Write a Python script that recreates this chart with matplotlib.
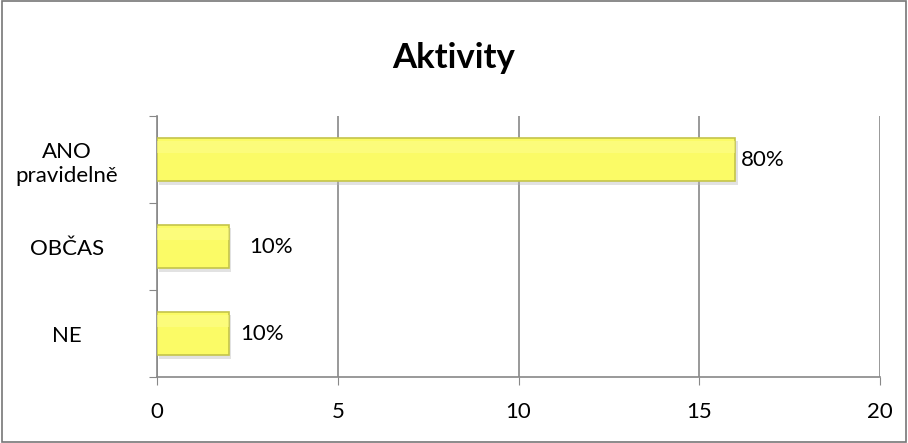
import matplotlib.pyplot as plt
import numpy as np
from matplotlib.patches import Rectangle

categories = ["NE", "OBČAS", "ANO\npravidelně"]
counts = [2, 2, 16]
pct_labels = ["10%", "10%", "80%"]
x_ticks = [0, 5, 10, 15, 20]

plt.rcParams["font.family"] = ["Lato", "DejaVu Sans"]

fig = plt.figure(figsize=(9.08, 4.43), dpi=100)
ax = fig.add_axes([0.1729, 0.149, 0.7963, 0.589])

y = np.arange(len(categories))
# soft shadow, main bar, highlight strip
ax.barh(y - 0.04, counts, height=0.5, left=0.06, color="#b8b8b8", alpha=0.4, zorder=2)
ax.barh(y, counts, height=0.5, color="#fbfb66", edgecolor="#c4c44a", linewidth=1.2, zorder=3)
ax.barh(y + 0.14, counts, height=0.14, color="#fdfd90", linewidth=0, zorder=3, alpha=0.5)

offsets = [8, 14, 4]
for yi, v, lab, off in zip(y, counts, pct_labels, offsets):
    ax.annotate(lab, (v, yi), xytext=(off, 0), textcoords="offset points",
                va="center", ha="left", fontsize=16, color="black", zorder=4)

ax.set_xlim(0, 20)
ax.set_ylim(-0.5, 2.5)
ax.set_xticks(x_ticks)
ax.set_xticklabels([str(t) for t in x_ticks], fontsize=16)
ax.set_yticks([-0.5, 0.5, 1.5, 2.5], minor=False)
ax.set_yticklabels([])
ax.set_yticks(y, minor=True)
ax.set_yticklabels(categories, minor=True, fontsize=16, ha="center", multialignment="center",
                   linespacing=1.25)
ax.tick_params(axis="y", which="minor", length=0, pad=65)
ax.tick_params(axis="y", which="major", length=6, color="#888888")
ax.tick_params(axis="x", length=6, color="#888888", pad=12)

ax.grid(axis="x", color="#888888", linewidth=1.2, zorder=0)
ax.set_axisbelow(True)
for s in ["top", "right"]:
    ax.spines[s].set_visible(False)
ax.spines["left"].set_color("#888888")
ax.spines["bottom"].set_color("#888888")
ax.spines["left"].set_linewidth(1.2)
ax.spines["bottom"].set_linewidth(1.2)

fig.text(0.5, 0.87, "Aktivity", ha="center", va="center", fontsize=25, fontweight="bold")

fig.patches.append(Rectangle((0.002, 0.003), 0.996, 0.994, transform=fig.transFigure,
                             fill=False, edgecolor="#777777", linewidth=1.2))

fig.savefig("out.png", dpi=100)
